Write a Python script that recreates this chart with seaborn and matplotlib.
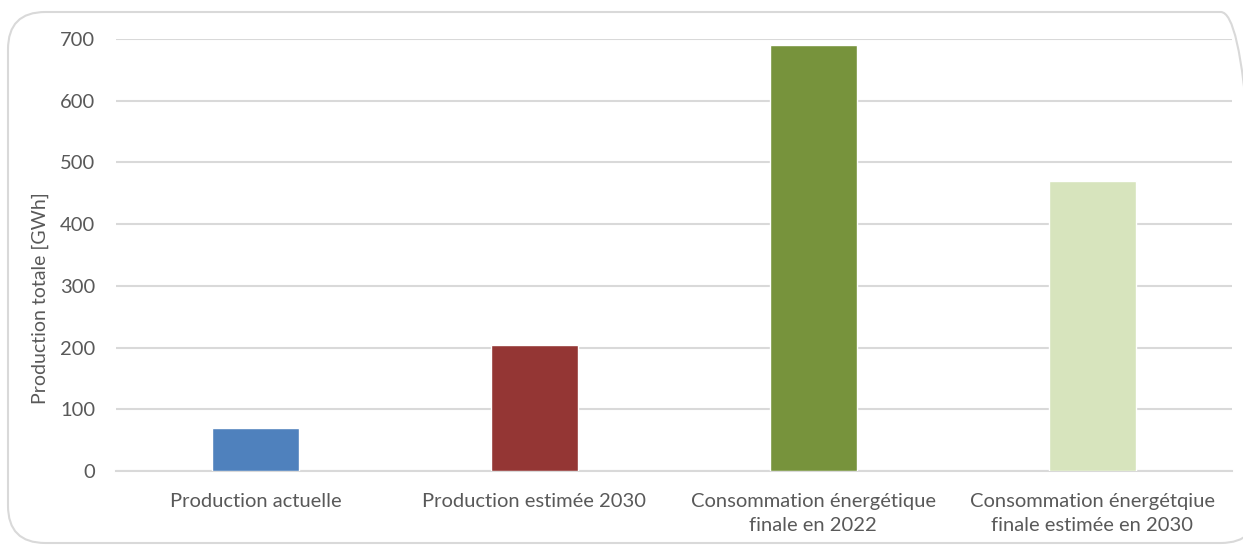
import matplotlib
matplotlib.use("Agg")
import matplotlib.pyplot as plt
import seaborn as sns
import pandas as pd
from matplotlib.patches import FancyBboxPatch

# ---------- DATA ----------
categories = [
    "Production actuelle",
    "Production estimée 2030",
    "Consommation énergétique\nfinale en 2022",
    "Consommation énergétqiue\nfinale estimée en 2030",
]
values = [69, 205, 690, 470]
colors = ["#4F81BD", "#943634", "#77933C", "#D7E4BD"]
yticks = [0, 100, 200, 300, 400, 500, 600, 700]

df = pd.DataFrame({"cat": categories, "val": values})

sns.set_style("white")
plt.rcParams["font.family"] = ["Lato", "DejaVu Sans"]

TXT = "#595959"
GRID = "#D9D9D9"

fig = plt.figure(figsize=(12.43, 5.49), dpi=100)
ax = fig.add_axes([0.0933, 0.142, 0.8977, 0.787])

# rounded chart frame
frame = FancyBboxPatch((8 / 1243, 6 / 549), 1250 / 1243, 531 / 549,
                       boxstyle="round,pad=0,rounding_size=0.03",
                       transform=fig.transFigure, facecolor="none",
                       edgecolor="#D9D9D9", linewidth=1.5,
                       mutation_aspect=1243 / 549, clip_on=False)
fig.patches.append(frame)

sns.barplot(data=df, x="cat", y="val", hue="cat", palette=colors,
            width=0.31, legend=False, saturation=1, ax=ax, zorder=3)

ax.set_ylim(0, 700)
ax.set_yticks(yticks)
ax.yaxis.grid(True, color=GRID, linewidth=1.5, zorder=0)
ax.set_axisbelow(True)
for s in ["top", "right", "left"]:
    ax.spines[s].set_visible(False)
ax.spines["bottom"].set_color(GRID)
ax.spines["bottom"].set_linewidth(1.5)
ax.tick_params(axis="both", length=0, labelsize=14.5, colors=TXT)
ax.tick_params(axis="y", pad=15)
ax.tick_params(axis="x", pad=16)
for lbl in ax.get_xticklabels():
    lbl.set_linespacing(1.5)
ax.set_xlabel("")
ax.set_ylabel("Production totale [GWh]", fontsize=14, color=TXT)
ax.yaxis.set_label_coords(-0.06, 0.40)

fig.savefig("out.png", dpi=100)
